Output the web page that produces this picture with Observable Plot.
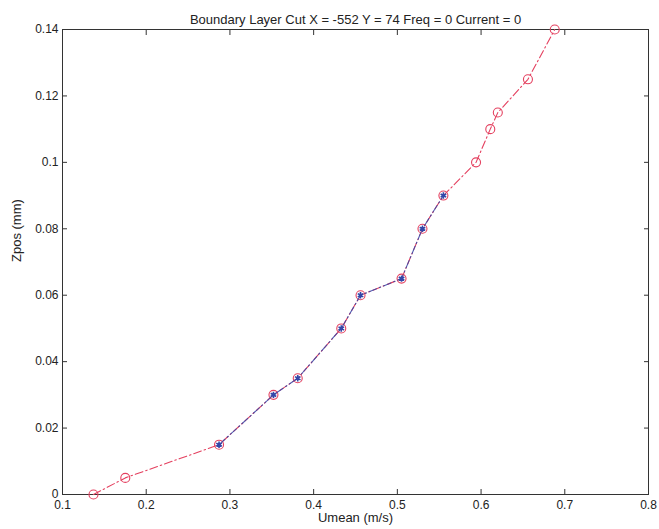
<!DOCTYPE html>
<html>
<head>
<meta charset="utf-8">
<script src="https://cdn.jsdelivr.net/npm/d3@7"></script>
<script src="https://cdn.jsdelivr.net/npm/@observablehq/plot@0.6"></script>
<style>
  html, body { margin: 0; padding: 0; background: #fff; }
  #chart svg { display: block; }
</style>
</head>
<body>
<div id="chart"></div>
<script>
// Full profile (red circles, dash-dot)
const umeanAll = [0.137, 0.175, 0.287, 0.352, 0.381, 0.433, 0.456, 0.505, 0.530, 0.555, 0.594, 0.611, 0.620, 0.656, 0.688];
const zposAll  = [0.000, 0.005, 0.015, 0.030, 0.035, 0.050, 0.060, 0.065, 0.080, 0.090, 0.100, 0.110, 0.115, 0.125, 0.140];
// Selected subset (blue asterisks, dash-dot)
const umeanSel = [0.287, 0.352, 0.381, 0.433, 0.456, 0.505, 0.530, 0.555];
const zposSel  = [0.015, 0.030, 0.035, 0.050, 0.060, 0.065, 0.080, 0.090];
// Tick labels
const xTicks = [0.1, 0.2, 0.3, 0.4, 0.5, 0.6, 0.7, 0.8];
const yTicks = [0, 0.02, 0.04, 0.06, 0.08, 0.1, 0.12, 0.14];
const titleText = "Boundary Layer Cut X = -552 Y = 74 Freq = 0 Current = 0";
const xLabel = "Umean (m/s)";
const yLabel = "Zpos (mm)";

const allData = umeanAll.map((u, i) => ({u, z: zposAll[i]}));
const selData = umeanSel.map((u, i) => ({u, z: zposSel[i]}));

const red = "#e4405f";
const blue = "#3447a8";
const axisColor = "#333";
const fmt = d => String(d);

const chart = Plot.plot({
  width: 659,
  height: 529,
  marginLeft: 62,
  marginRight: 11,
  marginTop: 29,
  marginBottom: 35,
  style: {fontFamily: "Liberation Sans, Arial, sans-serif", fontSize: "12px", color: "#222", background: "#fff"},
  x: {domain: [0.1, 0.8], label: null},
  y: {domain: [0, 0.14], label: null},
  marks: [
    Plot.frame({stroke: axisColor, strokeWidth: 1}),
    // inward ticks on all sides
    Plot.axisX(xTicks, {anchor: "bottom", tickSize: -5, tickFormat: () => "", stroke: axisColor, label: null}),
    Plot.axisX(xTicks, {anchor: "top", tickSize: -5, tickFormat: () => "", stroke: axisColor, label: null}),
    Plot.axisY(yTicks, {anchor: "left", tickSize: -5, tickFormat: () => "", stroke: axisColor, label: null}),
    Plot.axisY(yTicks, {anchor: "right", tickSize: -5, tickFormat: () => "", stroke: axisColor, label: null}),
    // tick labels
    Plot.axisX(xTicks, {anchor: "bottom", tickSize: 0, tickPadding: 6, tickFormat: fmt, fontSize: 12, fill: "#222", label: null}),
    Plot.axisY(yTicks, {anchor: "left", tickSize: 0, tickPadding: 4, tickFormat: fmt, fontSize: 12, fill: "#222", label: null}),
    // title and axis labels
    Plot.text([titleText], {frameAnchor: "top", dy: -15, fontSize: 13, fill: "#222"}),
    Plot.text([xLabel], {frameAnchor: "bottom", dy: 27, fontSize: 13, fill: "#222"}),
    Plot.text([yLabel], {frameAnchor: "left", dx: -46, rotate: -90, fontSize: 13, fill: "#222"}),
    // red full series
    Plot.line(allData, {x: "u", y: "z", stroke: red, strokeWidth: 1.1, strokeDasharray: "8,3,1.5,3"}),
    Plot.dot(allData, {x: "u", y: "z", r: 4.5, stroke: red, strokeWidth: 1.1, fill: "none"}),
    // blue subset
    Plot.line(selData, {x: "u", y: "z", stroke: blue, strokeWidth: 1.1, strokeDasharray: "8,3,1.5,3", strokeOpacity: 0.85}),
    Plot.dot(selData, {x: "u", y: "z", r: 3, symbol: "asterisk", stroke: blue, strokeWidth: 1.6}),
    Plot.dot(selData, {x: "u", y: "z", r: 1.8, fill: blue, stroke: "none"})
  ]
});
document.getElementById("chart").appendChild(chart);
</script>
</body>
</html>
